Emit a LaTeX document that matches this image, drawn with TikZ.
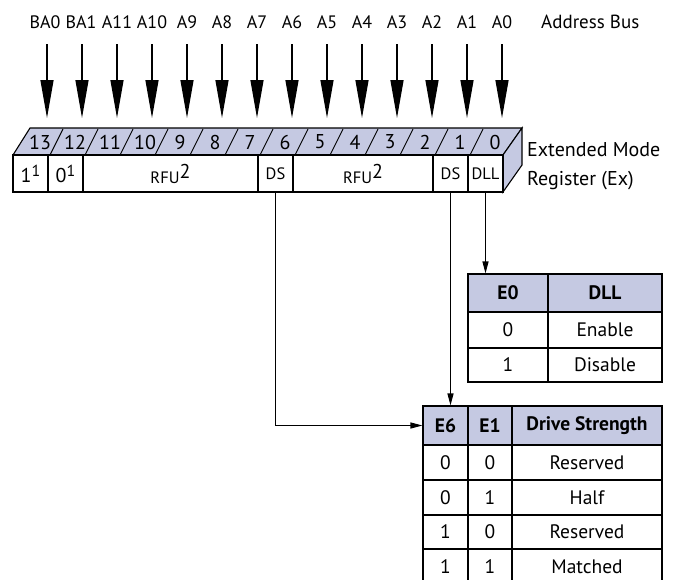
\documentclass[tikz,border=0pt]{standalone}
\usepackage{fontspec}
\setmainfont{PT Sans}
\usetikzlibrary{arrows.meta}
\definecolor{lav}{HTML}{C5C9E2}
\newcommand{\fsz}[1]{\fontsize{#1}{#1}\selectfont}
\begin{document}
\begin{tikzpicture}[x=1pt,y=-1pt,
  lbl/.style={font=\fsz{18}, inner sep=0pt},
  busarr/.style={line width=1.3pt, -{Triangle[length=38pt,width=13pt]}},
  cell/.style={draw, line width=1.1pt, fill=white, inner sep=0pt, minimum height=37pt, font=\fsz{16.5}},
  tcell/.style={draw, line width=1.1pt, inner sep=0pt, font=\fsz{19.5}},
  thead/.style={tcell, fill=lav, font=\bfseries\fsz{19.5}},
  conn/.style={line width=1.1pt, -{Triangle[length=12pt,width=6pt]}},
  face/.style={draw, line width=1.1pt, fill=lav, line join=miter}]
\useasboundingbox (0,0) rectangle (680,579);

% address labels and arrows
\foreach \nm/\k/\dx in {BA0/13/-2,BA1/12/-1,A11/11/0,A10/10/0,A9/9/0,A8/8/0,A7/7/0,A6/6/0,A5/5/0,A4/4/0,A3/3/0,A2/2/0,A1/1/0,A0/0/0} {
  \pgfmathsetmacro{\xx}{13+(13-\k)*35+34}
  \node[lbl] (bus\k) at (\xx+\dx,22) {\nm};
  \coordinate (s\k) at (\xx,44);
  \coordinate (t\k) at (\xx,118);
  \draw[busarr] (s\k) -- (t\k);
}
\node[font=\fsz{19}, inner sep=0pt, anchor=west] (busname) at (541,22) {Address Bus};

% register top and side faces
\draw[face] (13,155) -- (30,128) -- (522,128) -- (503,155) -- cycle;
\draw[face] (503,155) -- (522,128) -- (522,165) -- (503,192) -- cycle;
\foreach \j in {1,...,13} {
  \pgfmathsetmacro{\xb}{13+35*\j}
  \draw[line width=0.9pt] (\xb+2,155) -- (\xb+15,129);
}
\foreach \k in {13,...,0} {
  \pgfmathsetmacro{\xc}{13+(13-\k)*35+27}
  \node[font=\fsz{20}, inner sep=0pt] (n\k) at (\xc,142) {\k};
}

% front cells
\node[cell, minimum width=35pt] (c13) at (30.5,173.5) {\fsz{20}1\raisebox{6pt}{\fsz{16}1}};
\node[cell, minimum width=35pt] (c12) at (65.5,173.5) {\fsz{20}0\raisebox{6pt}{\fsz{16}1}};
\node[cell, minimum width=175pt] (rfua) at (170.5,173.5) {RFU\raisebox{5pt}{\fsz{20}2}};
\node[cell, minimum width=35pt] (ds6) at (275.5,173.5) {\raisebox{-1.5pt}{DS}};
\node[cell, minimum width=140pt] (rfub) at (363,173.5) {RFU\raisebox{5pt}{\fsz{20}2}};
\node[cell, minimum width=35pt] (ds1) at (450.5,173.5) {\raisebox{-1.5pt}{DS}};
\node[cell, minimum width=35pt] (dll) at (485.5,173.5) {\raisebox{-1.5pt}{DLL}};

\node[font=\fsz{20}, anchor=west, inner sep=0pt] (regA) at (527,150) {Extended Mode};
\node[font=\fsz{20}, anchor=west, inner sep=0pt] (regB) at (527,181) {Register (Ex)};

% table 1
\node[thead, minimum width=80pt, minimum height=38pt] (e0h) at (508,293) {E0};
\node[thead, minimum width=114pt, minimum height=38pt] (dllh) at (605,293) {DLL};
\node[tcell, minimum width=80pt, minimum height=36pt] (e0a) at (508,330) {0};
\node[tcell, minimum width=114pt, minimum height=36pt] (dlla) at (605,330) {Enable};
\node[tcell, minimum width=80pt, minimum height=34pt] (e0b) at (508,365) {1};
\node[tcell, minimum width=114pt, minimum height=34pt] (dllb) at (605,365) {Disable};

% table 2
\node[thead, minimum width=45pt, minimum height=39pt] (e6h) at (445.5,425.5) {E6};
\node[thead, minimum width=44pt, minimum height=39pt] (e1h) at (490,425.5) {\raisebox{-3pt}{E1}};
\node[thead, minimum width=150pt, minimum height=39pt] (dsh) at (587,425.5) {Drive Strength};
\foreach \r/\a/\b/\t/\yc/\hh in {1/0/0/Reserved/462.5/35, 2/0/1/Half/497.5/35, 3/1/0/Reserved/532/34, 4/1/1/Matched/566.5/35} {
  \node[tcell, minimum width=45pt, minimum height=\hh pt] (e6r\r) at (445.5,\yc) {\a};
  \node[tcell, minimum width=44pt, minimum height=\hh pt] (e1r\r) at (490,\yc) {\b};
  \node[tcell, minimum width=150pt, minimum height=\hh pt] (dsr\r) at (587,\yc) {\t};
}

% connectors
\draw[conn] (dll.south) -- (dll.south |- e0h.north);
\draw[conn] (ds1.south) -- (ds1.south |- e6h.north);
\draw[conn] (ds6.south) |- (e6h.west);
\end{tikzpicture}
\end{document}
